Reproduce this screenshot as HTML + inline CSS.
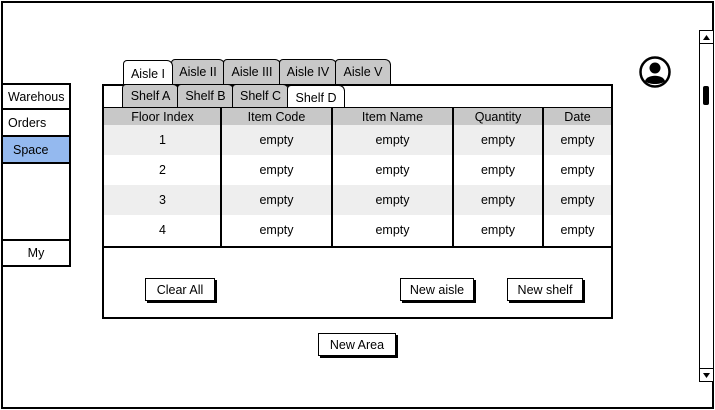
<!DOCTYPE html>
<html><head><meta charset="utf-8"><style>
body{margin:0;width:715px;height:410px;position:relative;background:#fff;font-family:"Liberation Sans",sans-serif;font-size:12.5px;color:#000;overflow:hidden}
.a{position:absolute;box-sizing:border-box}
.b{border:2px solid #000}
.t{display:flex;align-items:center;justify-content:center}
.tab{position:absolute;box-sizing:border-box;border:1.5px solid #000;border-bottom:none;border-radius:4px 6px 0 0;background:#c8c8c8;display:flex;align-items:center;justify-content:center;font-size:12.5px}
.tab.w{background:#fff}
.btn{position:absolute;box-sizing:border-box;border:1.5px solid #000;background:#fff;box-shadow:2px 2px 0 #000;display:flex;align-items:center;justify-content:center;font-size:12.5px}
.cell{position:absolute;display:flex;align-items:center;justify-content:center;font-size:12.5px}
</style></head><body>
<div class="a b" style="left:1px;top:1px;width:713px;height:408px"></div>

<!-- sidebar -->
<div class="a b" style="left:1px;top:83px;width:70px;height:27px;padding-left:5px;display:flex;align-items:center">Warehous</div>
<div class="a b" style="left:1px;top:108px;width:70px;height:29px;padding-left:5px;display:flex;align-items:center">Orders</div>
<div class="a b" style="left:1px;top:135px;width:70px;height:29px;padding-left:10px;display:flex;align-items:center;background:#94b9ef">Space</div>
<div class="a b" style="left:1px;top:162px;width:70px;height:79px"></div>
<div class="a b t" style="left:1px;top:239px;width:70px;height:28px">My</div>

<!-- aisle tabs -->
<div class="tab" style="left:171px;top:59px;width:54px;height:25px">Aisle II</div>
<div class="tab" style="left:223px;top:59px;width:58px;height:25px">Aisle III</div>
<div class="tab" style="left:279px;top:59px;width:58px;height:25px">Aisle IV</div>
<div class="tab" style="left:335px;top:59px;width:56px;height:25px">Aisle V</div>
<div class="tab w" style="left:123px;top:60px;width:50px;height:25px;padding-top:2px">Aisle I</div>

<!-- shelf container -->
<div class="a b" style="left:102px;top:84px;width:511px;height:25px"></div>
<div class="tab" style="left:122px;top:84px;width:57px;height:23px">Shelf A</div>
<div class="tab" style="left:177px;top:84px;width:57px;height:23px">Shelf B</div>
<div class="tab" style="left:232px;top:84px;width:57px;height:23px">Shelf C</div>
<div class="tab w" style="left:287px;top:85px;width:58px;height:23px;padding-top:2px">Shelf D</div>

<!-- table -->
<div class="a" style="left:102px;top:107px;width:511px;height:141px;border:2px solid #000;border-top:1px solid #000;border-bottom:none"></div>
<div class="a" style="left:104px;top:108px;width:507px;height:17px;background:#c8c8c8"></div>
<div class="a" style="left:104px;top:125px;width:507px;height:30px;background:#eeeeee"></div>
<div class="a" style="left:104px;top:185px;width:507px;height:30px;background:#eeeeee"></div>
<div class="a" style="left:220px;top:108px;width:2px;height:139px;background:#000"></div>
<div class="a" style="left:331px;top:108px;width:2px;height:139px;background:#000"></div>
<div class="a" style="left:452px;top:108px;width:2px;height:139px;background:#000"></div>
<div class="a" style="left:542px;top:108px;width:2px;height:139px;background:#000"></div>

<div class="cell" style="left:104px;top:108px;width:117px;height:17px">Floor Index</div>
<div class="cell" style="left:222px;top:108px;width:109px;height:17px">Item Code</div>
<div class="cell" style="left:333px;top:108px;width:119px;height:17px">Item Name</div>
<div class="cell" style="left:454px;top:108px;width:88px;height:17px">Quantity</div>
<div class="cell" style="left:544px;top:108px;width:67px;height:17px">Date</div>

<div class="cell" style="left:104px;top:125px;width:117px;height:30px">1</div>
<div class="cell" style="left:104px;top:155px;width:117px;height:30px">2</div>
<div class="cell" style="left:104px;top:185px;width:117px;height:30px">3</div>
<div class="cell" style="left:104px;top:215px;width:117px;height:30px">4</div>

<div class="cell" style="left:222px;top:125px;width:109px;height:30px">empty</div>
<div class="cell" style="left:222px;top:155px;width:109px;height:30px">empty</div>
<div class="cell" style="left:222px;top:185px;width:109px;height:30px">empty</div>
<div class="cell" style="left:222px;top:215px;width:109px;height:30px">empty</div>

<div class="cell" style="left:333px;top:125px;width:119px;height:30px">empty</div>
<div class="cell" style="left:333px;top:155px;width:119px;height:30px">empty</div>
<div class="cell" style="left:333px;top:185px;width:119px;height:30px">empty</div>
<div class="cell" style="left:333px;top:215px;width:119px;height:30px">empty</div>

<div class="cell" style="left:454px;top:125px;width:88px;height:30px">empty</div>
<div class="cell" style="left:454px;top:155px;width:88px;height:30px">empty</div>
<div class="cell" style="left:454px;top:185px;width:88px;height:30px">empty</div>
<div class="cell" style="left:454px;top:215px;width:88px;height:30px">empty</div>

<div class="cell" style="left:544px;top:125px;width:67px;height:30px">empty</div>
<div class="cell" style="left:544px;top:155px;width:67px;height:30px">empty</div>
<div class="cell" style="left:544px;top:185px;width:67px;height:30px">empty</div>
<div class="cell" style="left:544px;top:215px;width:67px;height:30px">empty</div>

<!-- lower panel -->
<div class="a b" style="left:102px;top:246px;width:511px;height:73px"></div>
<div class="btn" style="left:145px;top:278px;width:70px;height:23px">Clear All</div>
<div class="btn" style="left:400px;top:278px;width:74px;height:23px">New aisle</div>
<div class="btn" style="left:507px;top:278px;width:76px;height:23px">New shelf</div>
<div class="btn" style="left:318px;top:333px;width:78px;height:23px">New Area</div>

<!-- avatar -->
<svg class="a" style="left:638px;top:55px" width="34" height="34" viewBox="0 0 34 34">
<circle cx="17" cy="17" r="14.5" fill="#fff" stroke="#000" stroke-width="2.5"/>
<circle cx="17" cy="13" r="5.5" fill="#000"/>
<path d="M7 26 C9 19 25 19 27 26 C23 30 11 30 7 26Z" fill="#000"/>
</svg>

<!-- scrollbar -->
<div class="a" style="left:699px;top:30px;width:15px;height:352px;border:1.5px solid #000;background:#fff"></div>
<div class="a" style="left:699px;top:30px;width:15px;height:14px;border:1.5px solid #000"></div>
<div class="a" style="left:699px;top:368px;width:15px;height:14px;border:1.5px solid #000"></div>
<svg class="a" style="left:701px;top:33px" width="11" height="9"><path d="M2 7 L5.5 2 L9 7Z" fill="#000"/></svg>
<svg class="a" style="left:701px;top:371px" width="11" height="9"><path d="M2 2 L5.5 7 L9 2Z" fill="#000"/></svg>
<div class="a" style="left:703px;top:86px;width:6px;height:19px;background:#000;border-radius:2px"></div>
</body></html>
